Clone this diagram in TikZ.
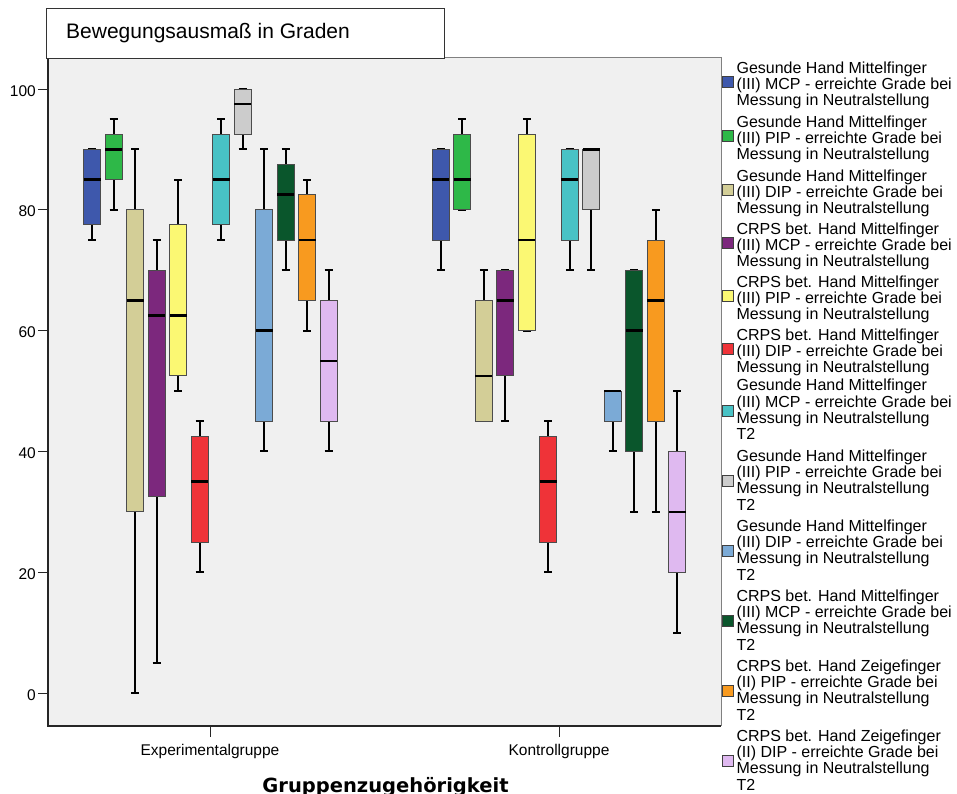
\documentclass[tikz,border=0pt]{standalone}
\usepackage{fontspec}
\setmainfont{Liberation Sans}
\newfontfamily\axisfont{DejaVu Sans}
\usetikzlibrary{positioning}

\definecolor{c1}{HTML}{3E58AC}
\definecolor{c2}{HTML}{2EB848}
\definecolor{c3}{HTML}{D3CE97}
\definecolor{c4}{HTML}{7C287D}
\definecolor{c5}{HTML}{FBF873}
\definecolor{c6}{HTML}{EF3338}
\definecolor{c7}{HTML}{48C2C5}
\definecolor{c8}{HTML}{CCCCCC}
\definecolor{c9}{HTML}{7BAAD6}
\definecolor{c10}{HTML}{0A562C}
\definecolor{c11}{HTML}{F89A1F}
\definecolor{c12}{HTML}{DFB9F0}

\tikzstyle{whisker} = [draw=black,line width=2pt]
\tikzstyle{boxbody} = [draw=black!70,line width=1pt]
\tikzstyle{median} = [draw=black,line width=2.6pt]
\tikzstyle{axistick} = [draw=black!85,line width=1pt]
\tikzstyle{ticklabel} = [font=\fontsize{15.5}{18}\selectfont,inner sep=0pt]
\tikzstyle{legsquare} = [draw=black!75,line width=0.8pt,minimum size=11pt,inner sep=0pt]
\tikzstyle{legtext} = [font=\fontsize{16}{16.3}\selectfont,align=left,inner sep=0pt]

\begin{document}
\begin{tikzpicture}[x=1pt,y=-1pt]
      \useasboundingbox (0,0) rectangle (957,793);
      %plot area
      \fill[black!6] (48,57) rectangle (721,726);
      \draw[black!50,line width=1pt] (48,57) -- (721,57) -- (721,726);
      \draw[black!85,line width=1.2pt] (48,57) -- (48,726) -- (721,726);
      %title
      \node[draw=black!80,fill=white,line width=1pt,minimum width=398pt,minimum height=50pt,inner sep=0pt,anchor=north west] (titlebox) at (46,8) {};
      \node[font=\fontsize{21}{24}\selectfont,anchor=base west,inner sep=0pt] (title) at (66,38) {Bewegungsausmaß in Graden};

      \begin{scope}[shift={(0,693)},y=6.04pt]
      %y axis
      \foreach \v in {0,20,...,100}
      {
        \draw[axistick] (38,\v) -- (48,\v);
        \node[ticklabel,anchor=east] (ytick\v) at (36,\v-0.3) {\v};
      };
      %boxes Experimentalgruppe
      \foreach \k/\lo/\qa/\med/\qb/\hi/\col in {
        0/75/77.5/85/90/90/c1, 1/80/85/90/92.5/95/c2, 2/0/30/65/80/90/c3,
        3/5/32.5/62.5/70/75/c4, 4/50/52.5/62.5/77.5/85/c5, 5/20/25/35/42.5/45/c6,
        6/75/77.5/85/92.5/95/c7, 7/90/92.5/97.5/100/100/c8, 8/40/45/60/80/90/c9,
        9/70/75/82.5/87.5/90/c10, 10/60/65/75/82.5/85/c11, 11/40/45/55/65/70/c12}
      {
        \pgfmathsetmacro{\x}{92+21.5*\k}
        \draw[whisker] (\x,\lo) -- (\x,\qa) (\x,\qb) -- (\x,\hi)
          (\x-4,\lo) -- (\x+4,\lo) (\x-4,\hi) -- (\x+4,\hi);
        \filldraw[boxbody,fill=\col] (\x-8.5,\qa) rectangle (\x+8.5,\qb);
        \draw[median] (\x-8.5,\med) -- (\x+8.5,\med);
      };
      %boxes Kontrollgruppe
      \foreach \k/\lo/\qa/\med/\qb/\hi/\col in {
        0/70/75/85/90/90/c1, 1/80/80/85/92.5/95/c2, 2/45/45/52.5/65/70/c3,
        3/45/52.5/65/70/70/c4, 4/60/60/75/92.5/95/c5, 5/20/25/35/42.5/45/c6,
        6/70/75/85/90/90/c7, 7/70/80/90/90/90/c8, 8/40/45/50/50/50/c9,
        9/30/40/60/70/70/c10, 10/30/45/65/75/80/c11, 11/10/20/30/40/50/c12}
      {
        \pgfmathsetmacro{\x}{440.75+21.5*\k}
        \draw[whisker] (\x,\lo) -- (\x,\qa) (\x,\qb) -- (\x,\hi)
          (\x-4,\lo) -- (\x+4,\lo) (\x-4,\hi) -- (\x+4,\hi);
        \filldraw[boxbody,fill=\col] (\x-8.5,\qa) rectangle (\x+8.5,\qb);
        \draw[median] (\x-8.5,\med) -- (\x+8.5,\med);
      };
      \end{scope}

      %x axis
      \draw[axistick] (210,726) -- (210,737);
      \draw[axistick] (559,726) -- (559,737);
      \node[ticklabel,anchor=base] (expgroup) at (210,755) {Experimentalgruppe};
      \node[ticklabel,anchor=base] (ctlgroup) at (559,755) {Kontrollgruppe};
      \node[font=\axisfont\bfseries\fontsize{19.5}{22}\selectfont,anchor=base,inner sep=0pt] (xlabel) at (385.5,792) {Gruppenzugehörigkeit};

      %legend
      \foreach \y/\col/\txt [count=\i] in {
        82/c1/{Gesunde Hand Mittelfinger\\(III) MCP - erreichte Grade bei\\Messung in Neutralstellung},
        136/c2/{Gesunde Hand Mittelfinger\\(III) PIP - erreichte Grade bei\\Messung in Neutralstellung},
        190/c3/{Gesunde Hand Mittelfinger\\(III) DIP - erreichte Grade bei\\Messung in Neutralstellung},
        243/c4/{CRPS bet. Hand Mittelfinger\\(III) MCP - erreichte Grade bei\\Messung in Neutralstellung},
        296/c5/{CRPS bet. Hand Mittelfinger\\(III) PIP - erreichte Grade bei\\Messung in Neutralstellung},
        349/c6/{CRPS bet. Hand Mittelfinger\\(III) DIP - erreichte Grade bei\\Messung in Neutralstellung},
        410.5/c7/{Gesunde Hand Mittelfinger\\(III) MCP - erreichte Grade bei\\Messung in Neutralstellung\\T2},
        481/c8/{Gesunde Hand Mittelfinger\\(III) PIP - erreichte Grade bei\\Messung in Neutralstellung\\T2},
        551/c9/{Gesunde Hand Mittelfinger\\(III) DIP - erreichte Grade bei\\Messung in Neutralstellung\\T2},
        621/c10/{CRPS bet. Hand Mittelfinger\\(III) MCP - erreichte Grade bei\\Messung in Neutralstellung\\T2},
        691/c11/{CRPS bet. Hand Zeigefinger\\(II) PIP - erreichte Grade bei\\Messung in Neutralstellung\\T2},
        761/c12/{CRPS bet. Hand Zeigefinger\\(II) DIP - erreichte Grade bei\\Messung in Neutralstellung\\T2}}
      {
        \pgfmathsetmacro{\dy}{\i<7 ? -3.5 : 1}
        \node[legsquare,fill=\col] (sq\i) at (727.5,\y) {};
        \node[legtext,right=3pt of sq\i,yshift=\dy pt] (leg\i) {\txt};
      };
\end{tikzpicture}
\end{document}
